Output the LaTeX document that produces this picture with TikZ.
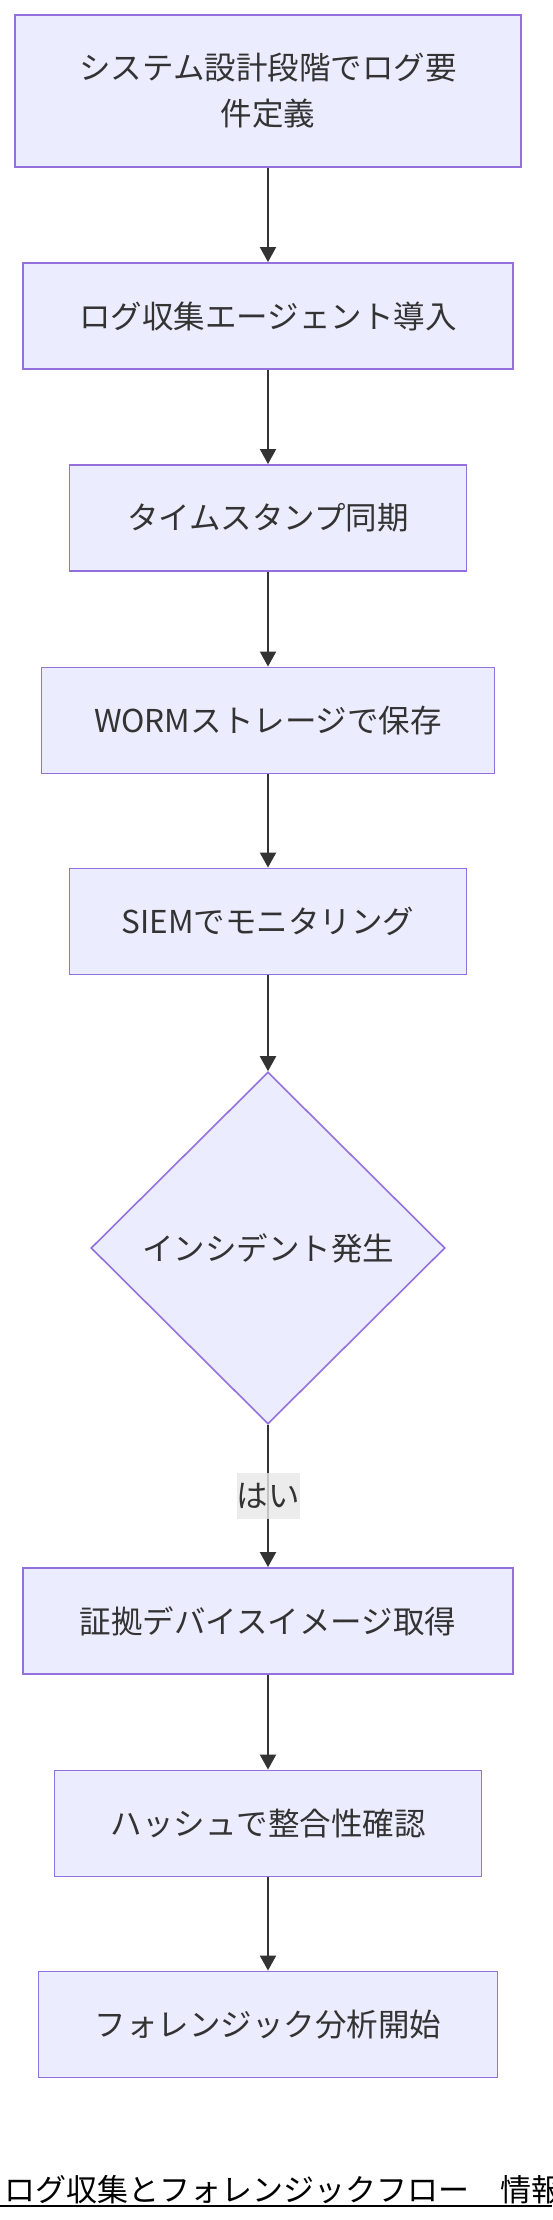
\documentclass[tikz,border=0pt]{standalone}
\usepackage{fontspec}
\newfontfamily\jp{Noto Sans CJK JP}
\usetikzlibrary{shapes.geometric,arrows.meta}
\definecolor{nodefill}{HTML}{ECECFF}
\definecolor{nodeline}{HTML}{9370DB}
\definecolor{ink}{HTML}{333333}
\definecolor{lblbg}{HTML}{E8E8E8}
\begin{document}
\begin{tikzpicture}[x=1pt,y=-1pt,
  box/.style={draw=nodeline, fill=nodefill, line width=1.9pt,
    font=\jp\fontsize{31.5}{46}\selectfont, text=ink, align=center,
    inner sep=0pt, minimum height=106pt},
  decision/.style={diamond, draw=nodeline, fill=nodefill, line width=1.6pt,
    font=\jp\fontsize{31.5}{46}\selectfont, text=ink, inner sep=0pt,
    minimum width=354pt, minimum height=352pt},
  arr/.style={draw=ink, line width=2pt, -{Triangle[length=15pt,width=16pt]}},
  lbl/.style={fill=lblbg, fill opacity=0.8, text opacity=1, text=ink,
    font=\jp\fontsize{31.5}{46}\selectfont, inner xsep=0pt, inner ysep=0pt,
    minimum height=46pt},
  titlestyle/.style={font=\jp\fontsize{31}{31}\selectfont, text=black,
    anchor=base west, inner sep=0pt}
]
\useasboundingbox (0,0) rectangle (552,2220);
\fill[white] (0,0) rectangle (552,2220);

\node[box, minimum width=506pt, minimum height=152pt] (b1) at (268,91) {システム設計段階でログ要\\件定義};
\node[box, minimum width=490pt] (b2) at (268,316) {ログ収集エージェント導入};
\node[box, minimum width=397pt] (b3) at (268,518) {タイムスタンプ同期};
\node[box, minimum width=453pt] (b4) at (268,720.5) {WORMストレージで保存};
\node[box, minimum width=397pt] (b5) at (268,921.5) {SIEMでモニタリング};
\node[decision] (d) at (268,1248) {インシデント発生};
\node[box, minimum width=490pt] (b6) at (268,1621) {証拠デバイスイメージ取得};
\node[box, minimum width=427pt] (b7) at (268,1823.5) {ハッシュで整合性確認};
\node[box, minimum width=459pt] (b8) at (268,2024.5) {フォレンジック分析開始};

\draw[arr] (b1) -- (b2);
\draw[arr] (b2) -- (b3);
\draw[arr] (b3) -- (b4);
\draw[arr] (b4) -- (b5);
\draw[arr] (b5) -- (d);
\draw[arr] (d) -- node[lbl] (yes) {はい} (b6);
\draw[arr] (b6) -- (b7);
\draw[arr] (b7) -- (b8);

\begin{scope}
\clip (0,0) rectangle (552,2220);
\node[titlestyle] (title) at (4,2201) {ログ収集とフォレンジックフロー　情報};
\coordinate (ulL) at (0,2206);
\coordinate (ulR) at (552,2206);
\draw[line width=2pt, black] (ulL) -- (ulR);
\end{scope}
\end{tikzpicture}
\end{document}
